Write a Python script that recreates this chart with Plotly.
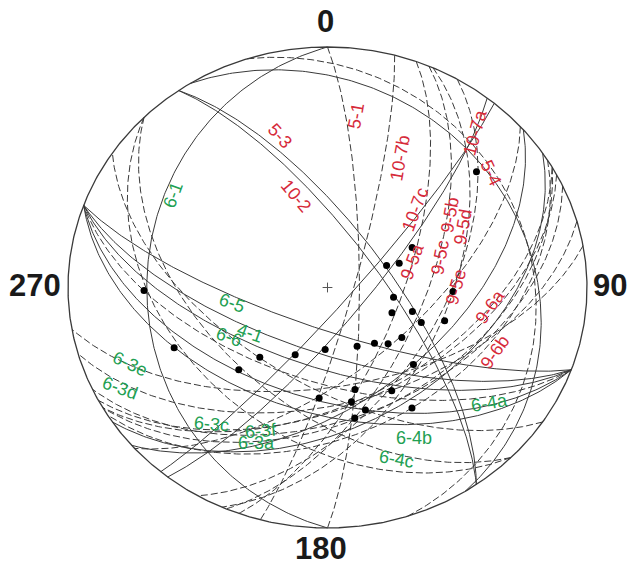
import numpy as np
import plotly.graph_objects as go

# ---- planes (dip direction / dip, degrees) ----
plane_names = [
    "6-1", "6-5", "4-1", "w1", "6-6", "w2", "6-4a", "6-4b", "6-4c", "s1",
    "6-3e", "6-3d", "6-3c", "6-3f", "6-3a",
    "5-1", "5-3", "10-2", "5-4", "n1", "10-7b", "10-7a", "10-7c", "9-5a",
    "9-5b", "9-5c", "9-5d", "9-5e", "9-6a", "9-6b", "e1", "e2",
]
plane_dipdir = [
    270, 200, 200, 200, 200, 200, 200, 214, 225, 225,
    170, 164, 152, 150, 148,
    90, 55, 55, 58, 72, 105, 120, 130, 128,
    110, 113, 114, 138, 139, 146, 150, 155,
]
plane_dip = [
    31, 76, 68, 63, 58, 52, 47, 58, 51, 40,
    56, 50, 50, 45, 40,
    80, 74, 71, 23, 22, 82, 54, 83, 78,
    67, 60, 52, 62, 52, 43, 51, 45,
]

# ---- lineations (trend / plunge, degrees) ----
pt_trend = [50, 68, 70, 63, 99, 113, 107, 112, 107, 92, 182, 155, 142, 135,
            126, 134, 166, 150, 184, 169, 164, 169, 147, 269, 247, 225, 222, 204]
pt_plunge = [26, 70, 66, 60, 69, 68, 62, 58, 51, 50, 69, 68, 66, 63,
             61, 52, 54, 49, 52, 50, 46, 44, 40, 30, 36, 50, 58, 65]

# ---- labels ----
red_labels = ["5-3", "10-2", "5-1", "10-7b", "10-7c", "9-5a", "9-5c", "9-5b",
              "9-5d", "10-7a", "5-4", "9-5e", "9-6a", "9-6b"]
green_labels = ["6-1", "6-5", "4-1", "6-6", "6-3e", "6-3d", "6-3c", "6-3f",
                "6-3a", "6-4a", "6-4b", "6-4c"]
cardinal_text = ["0", "90", "180", "270"]

# ---- styling / layout ----
W, H = 630, 567
CX, CY, RX, RY = 327.5, 287.5, 259.5, 240.5   # net centre and radii in px
RED, GREEN = "#d62a3a", "#22a052"
LINE = "#3a3a3a"
dashed = {"6-4b", "6-4c", "s1", "6-3e", "6-3d", "6-3c", "6-3f", "6-3a",
          "5-1", "10-7b", "n1", "9-5b", "9-5c", "9-5d", "10-7a", "9-5e",
          "e1", "e2", "6-6"}

label_place = {  # pixel anchor and text angle
    "5-3": (280, 136, 48), "10-2": (296, 196, 50), "5-1": (356, 116, -80),
    "10-7b": (400, 158, -80), "10-7c": (415, 210, -70), "9-5a": (412, 262, -70),
    "9-5c": (440, 258, -80), "9-5b": (450, 215, -80), "9-5d": (463, 227, -80),
    "10-7a": (475, 133, -75), "5-4": (491, 173, 65), "9-5e": (456, 287, -75),
    "9-6a": (490, 307, -55), "9-6b": (495, 352, -55),
    "6-1": (173, 195, -70), "6-5": (232, 303, 20), "4-1": (250, 333, 20),
    "6-6": (229, 337, 20), "6-3e": (130, 364, 25), "6-3d": (120, 388, 20),
    "6-3c": (211, 424, 5), "6-3f": (261, 431, -5), "6-3a": (256, 443, 0),
    "6-4a": (489, 403, -10), "6-4b": (414, 438, 0), "6-4c": (396, 459, 10),
}
cardinal_place = {"0": (325, 21), "90": (610, 285), "180": (321, 548), "270": (35, 285)}


def to_data(px, py):
    return (px - CX) / RX, (CY - py) / RY


def project(e, n, d):
    """Lambert equal-area, lower hemisphere (unit radius)."""
    f = 1.0 / np.sqrt(1.0 + d)
    return e * f, n * f


def great_circle(dd, dip, n=241):
    stk = np.radians(dd - 90.0)
    a, b = np.radians(dd), np.radians(dip)
    s = np.array([np.sin(stk), np.cos(stk), 0.0])
    dv = np.array([np.sin(a) * np.cos(b), np.cos(a) * np.cos(b), np.sin(b)])
    t = np.linspace(0, np.pi, n)
    p = np.outer(np.cos(t), s) + np.outer(np.sin(t), dv)
    return project(p[:, 0], p[:, 1], p[:, 2])


def line_point(trend, plunge):
    tr, pl = np.radians(np.asarray(trend, float)), np.radians(np.asarray(plunge, float))
    e, n, d = np.sin(tr) * np.cos(pl), np.cos(tr) * np.cos(pl), np.sin(pl)
    return project(e, n, d)


fig = go.Figure()

# primitive circle
th = np.linspace(0, 2 * np.pi, 721)
fig.add_trace(go.Scatter(x=np.sin(th), y=np.cos(th), mode="lines",
                         line=dict(color=LINE, width=1.3), hoverinfo="skip"))

# great circles
for name, dd, dp in zip(plane_names, plane_dipdir, plane_dip):
    gx, gy = great_circle(dd, dp)
    fig.add_trace(go.Scatter(
        x=gx, y=gy, mode="lines", name=name,
        line=dict(color=LINE, width=1.0,
                  dash="7px,3px" if name in dashed else "solid"),
        hoverinfo="skip"))

# centre cross
fig.add_trace(go.Scatter(x=[0], y=[0], mode="markers",
                         marker=dict(symbol="cross-thin", size=7,
                                     line=dict(color="#555", width=1)),
                         hoverinfo="skip"))

# lineation points
lx, ly = line_point(pt_trend, pt_plunge)
fig.add_trace(go.Scatter(x=lx, y=ly, mode="markers",
                         marker=dict(color="black", size=7), hoverinfo="skip"))

ann = []
for txt in red_labels + green_labels:
    px, py, ang = label_place[txt]
    x, y = to_data(px, py)
    ann.append(dict(x=x, y=y, text=txt, showarrow=False, textangle=ang,
                    font=dict(family="Liberation Sans, Arial, sans-serif", size=18,
                              color=RED if txt in red_labels else GREEN)))
for txt in cardinal_text:
    px, py = cardinal_place[txt]
    x, y = to_data(px, py)
    ann.append(dict(x=x, y=y, text="<b>%s</b>" % txt, showarrow=False,
                    font=dict(family="Liberation Sans, Arial, sans-serif",
                              size=31, color="#1a1a1a")))

fig.update_layout(
    width=W, height=H, autosize=False, showlegend=False,
    margin=dict(l=0, r=0, t=0, b=0, pad=0),
    paper_bgcolor="white", plot_bgcolor="white",
    annotations=ann,
)
fig.update_xaxes(range=[-CX / RX, (W - CX) / RX], visible=False, fixedrange=True)
fig.update_yaxes(range=[(CY - H) / RY, CY / RY], visible=False, fixedrange=True)

fig.write_html("out.html")
